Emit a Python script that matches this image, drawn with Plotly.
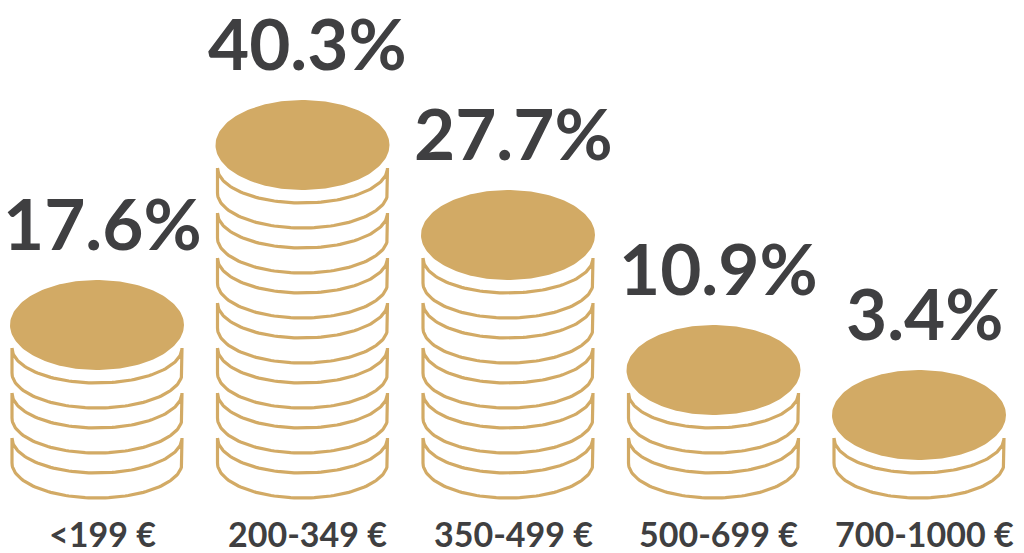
import numpy as np
import plotly.graph_objects as go

# ---- data ----
categories = ["<199 €", "200-349 €", "350-499 €", "500-699 €", "700-1000 €"]
shares = [17.6, 40.3, 27.7, 10.9, 3.4]
pct_labels = ["17.6%", "40.3%", "27.7%", "10.9%", "3.4%"]

PCT_PER_COIN = 5.75
coins = [max(1, int(round(v / PCT_PER_COIN))) for v in shares]

# ---- style / geometry (in axis units) ----
GOLD = "#D2AA65"
TEXT = "#3F3F41"
PX_X = 205.5   # pixels per category step
PX_Y = 45.0    # pixels per coin step
RXB = 85 / PX_X        # band half width
RXT = 87 / PX_X        # top coin half width
RYB = 35 / PX_Y        # band ellipse half height
RYT = 45 / PX_Y        # top coin half height
SIDE = 25 / PX_Y       # coin thickness
TIP = 60 / PX_Y        # tip height above band bottom
TOP_OFF = 23 / PX_Y    # top ellipse centre above top band tip

t = np.linspace(0, np.pi, 80)
bx, by = [], []
tx, ty = [], []
for i, n in enumerate(coins):
    for k in range(n):
        tip = k + TIP
        xs = list(i - RXB * np.cos(t)) + [i + RXB] + list(i + RXB * np.cos(t)) + [i - RXB]
        ys = list(tip - RYB * np.sin(t)) + [tip - SIDE] + list(tip - SIDE - RYB * np.sin(t)) + [tip]
        bx += xs + [None]
        by += ys + [None]
    cy = (n - 1) + TIP + TOP_OFF
    tt = np.linspace(0, 2 * np.pi, 160)
    tx += list(i + RXT * np.cos(tt)) + [None]
    ty += list(cy + RYT * np.sin(tt)) + [None]

fig = go.Figure()
fig.add_trace(go.Scatter(x=bx, y=by, mode="lines", line=dict(color=GOLD, width=3.2),
                         hoverinfo="skip", showlegend=False))
fig.add_trace(go.Scatter(x=tx, y=ty, mode="lines", fill="toself", fillcolor=GOLD,
                         line=dict(color=GOLD, width=0), hoverinfo="skip", showlegend=False))

for i, (n, lab) in enumerate(zip(coins, pct_labels)):
    top = (n - 1) + TIP + TOP_OFF + RYT
    fig.add_annotation(x=i + 5 / PX_X, y=top + 58 / PX_Y, text=lab, showarrow=False,
                       xanchor="center", yanchor="middle",
                       font=dict(family="Lato", size=71, color=TEXT, weight="bold"))

for i, cat in enumerate(categories):
    fig.add_annotation(x=i + 5 / PX_X, y=-35 / PX_Y, text=cat, showarrow=False,
                       xanchor="center", yanchor="middle",
                       font=dict(family="Lato", size=34, color=TEXT, weight="bold"))

fig.update_layout(
    width=1024, height=553, margin=dict(l=0, r=0, t=0, b=0),
    paper_bgcolor="white", plot_bgcolor="white",
    xaxis=dict(range=[-97 / PX_X, (1024 - 97) / PX_X], visible=False, fixedrange=True),
    yaxis=dict(range=[-55 / PX_Y, 498 / PX_Y], visible=False, fixedrange=True),
)
fig.write_html("out.html", config={"displayModeBar": False},
               post_script="document.body.style.margin='0';document.body.style.overflow='hidden';")
